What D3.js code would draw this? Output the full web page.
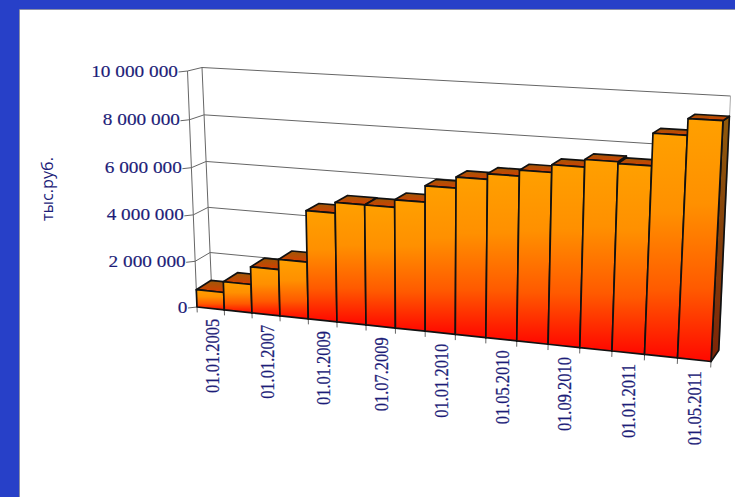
<!DOCTYPE html>
<html><head><meta charset="utf-8">
<script src="https://cdnjs.cloudflare.com/ajax/libs/d3/7.8.5/d3.min.js"></script>
<style>html,body{margin:0;padding:0;background:#fff}svg{display:block}</style>
</head><body><svg id="c" width="735" height="497"></svg>
<script>
const values = [760000,1230000,1990000,2420000,4580000,5020000,5010000,5320000,5980000,6420000,6640000,6870000,7170000,7460000,7390000,8620000,9240000];
const xLabels = ["01.01.2005","","01.01.2007","","01.01.2009","","01.07.2009","","01.01.2010","","01.05.2010","","01.09.2010","","01.01.2011","","01.05.2011"];
const yTicks = [0,2000000,4000000,6000000,8000000,10000000];
const yTitle = "тыс.руб.";

// Projective frame of the chart box on the page
const frontCorners = [[197,307],[711,361.5],[724,100],[187.5,71]];
const backCorners  = [[212,297],[719,350],[730.5,96],[202,67.5]];

function homography(q){
  const [[x0,y0],[x1,y1],[x2,y2],[x3,y3]] = q;
  const dx1=x1-x2,dx2=x3-x2,dx3=x0-x1+x2-x3,dy1=y1-y2,dy2=y3-y2,dy3=y0-y1+y2-y3;
  const det=dx1*dy2-dx2*dy1;
  const g=(dx3*dy2-dx2*dy3)/det,h=(dx1*dy3-dx3*dy1)/det;
  const a=x1-x0+g*x1,b=x3-x0+h*x3,d=y1-y0+g*y1,e=y3-y0+h*y3;
  return (u,v)=>{const w=g*u+h*v+1;return [(a*u+b*v+x0)/w,(d*u+e*v+y0)/w];};
}
const hf=homography(frontCorners), hb=homography(backCorners);
const P=(u,v,w=0)=>{const f=hf(u,v),b=hb(u,v);return [f[0]+(b[0]-f[0])*w,f[1]+(b[1]-f[1])*w];};

const xBand=d3.scaleBand().domain(d3.range(values.length)).range([0,1]).padding(0);
const yS=d3.scaleLinear().domain([0,10000000]).range([0,1]);
const svg=d3.select("#c");
const fmt=v=>d3.format(",")(v).replace(/,/g," ");

const defs=svg.append("defs");
function grad(id,stops){
  const g=defs.append("linearGradient").attr("id",id).attr("x1",0).attr("y1",0).attr("x2",0).attr("y2",1);
  stops.forEach(([o,c])=>g.append("stop").attr("offset",o).attr("stop-color",c));
}
grad("fFront",[[0,"#ffa000"],[0.35,"#ff9000"],[0.7,"#ff5a00"],[1,"#ff0800"]]);
grad("fTop",[[0,"#9c5a08"],[1,"#d83c00"]]);
grad("fSide",[[0,"#8f5a0c"],[1,"#7c2408"]]);

svg.append("rect").attr("width",735).attr("height",497).attr("fill","#2740c8");
svg.append("rect").attr("x",20).attr("y",10).attr("width",715).attr("height",487).attr("fill","#fff");
svg.append("path").attr("d","M19.5,497V9.5H735").attr("fill","none").attr("stroke","#8a8fa8").attr("stroke-width",1);

const line=d3.line();
const gridColor="#666";
const gGrid=svg.append("g").attr("fill","none").attr("stroke",gridColor).attr("stroke-width",1);
// walls
yTicks.forEach(t=>{
  const v=yS(t);
  gGrid.append("path").attr("d",line([P(0,v,1),P(1,v,1)]));
  gGrid.append("path").attr("d",line([P(0,v,0),P(0,v,1)]));
  const a=P(0,v,0);
  gGrid.append("path").attr("d",line([a,[a[0]-9,a[1]+1]]));
  svg.append("text").attr("transform",`translate(${a[0]-9.5},${a[1]+5.5}) scale(1.17,1)`)
    .attr("text-anchor","end").attr("font-family","'Liberation Serif',serif").attr("font-size",16.5)
    .attr("fill","#1c1c78").attr("stroke","#1c1c78").attr("stroke-width",0.15).text(fmt(t));
});
gGrid.append("path").attr("d",line([P(0,0,0),P(0,1,0)]));
gGrid.append("path").attr("d",line([P(0,0,1),P(0,1,1)]));
gGrid.append("path").attr("d",line([P(1,0,1),P(1,1,1)])).attr("stroke","#aaa");
// category ticks
d3.range(values.length+1).forEach(i=>{
  const u=i/values.length;
  gGrid.append("path").attr("d",line([P(u,0,0),P(u,-0.024,0)]));
});

// bars
const depth=0.97;
const gBars=svg.append("g").attr("stroke","#111").attr("stroke-width",1.7).attr("stroke-linejoin","round");
values.forEach((val,i)=>{
  const u0=xBand(i),u1=u0+xBand.bandwidth(),v=yS(val);
  const poly=(pts,fill)=>gBars.append("path").attr("d",line(pts)+"Z").attr("fill",fill);
  poly([P(u1,0,0),P(u1,v,0),P(u1,v,depth),P(u1,0,depth)],"url(#fSide)");
  poly([P(u0,v,0),P(u1,v,0),P(u1,v,depth),P(u0,v,depth)],"url(#fTop)");
  poly([P(u0,0,0),P(u1,0,0),P(u1,v,0),P(u0,v,0)],"url(#fFront)");
});

// category labels
xLabels.forEach((s,i)=>{
  if(!s) return;
  const p=P(xBand(i)+xBand.bandwidth()/2,-0.046,0);
  svg.append("text").attr("transform",`translate(${p[0]+7.5},${p[1]}) rotate(-90)`)
    .attr("text-anchor","end").attr("font-family","'Liberation Serif',serif").attr("font-size",18)
    .attr("textLength",74).attr("lengthAdjust","spacingAndGlyphs")
    .attr("fill","#1c1c78").attr("stroke","#1c1c78").attr("stroke-width",0.25).text(s);
});

svg.append("text").attr("transform","translate(53,221) rotate(-90)")
  .attr("font-family","'Open Sans',sans-serif").attr("font-size",16)
  .attr("textLength",64).attr("lengthAdjust","spacingAndGlyphs")
  .attr("fill","#1c1c78").text(yTitle);
</script></body></html>
